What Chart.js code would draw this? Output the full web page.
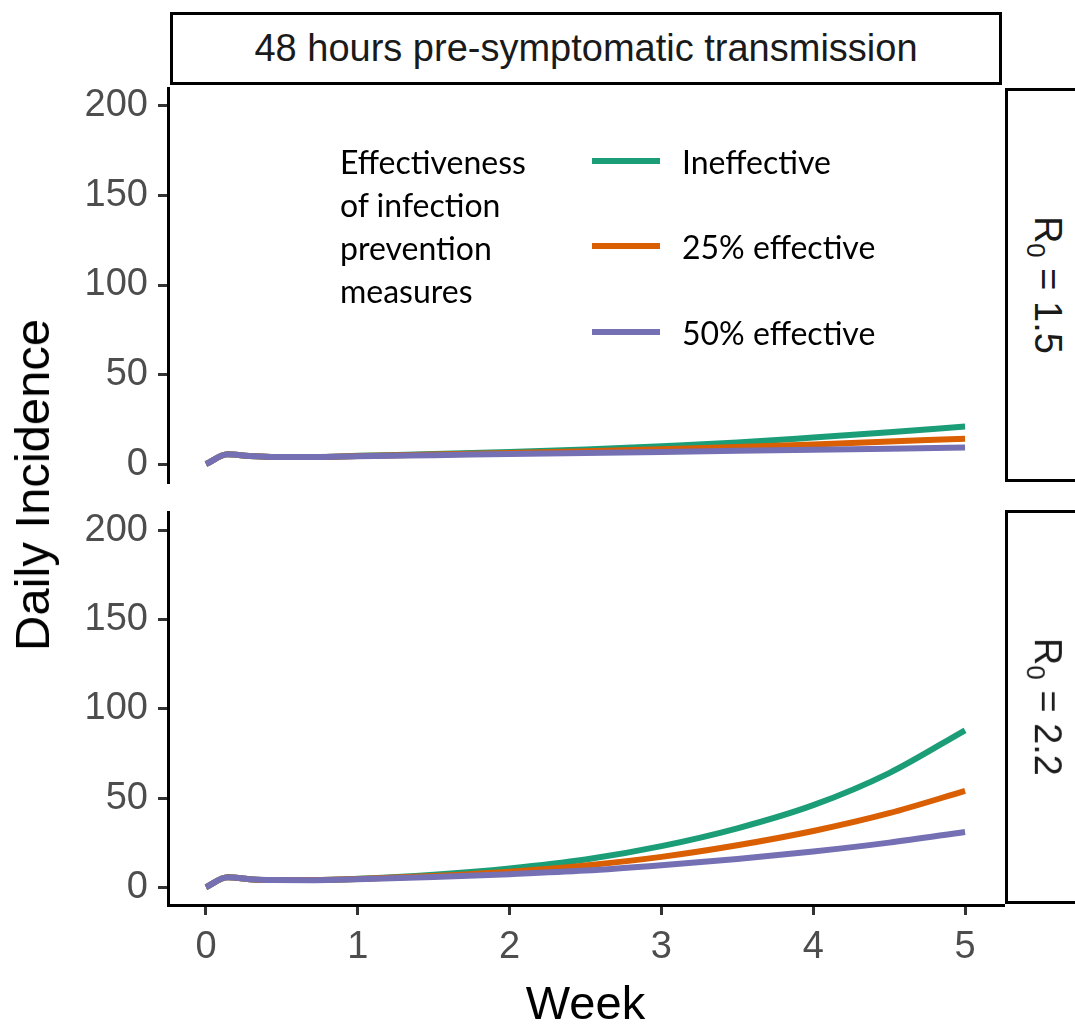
<!DOCTYPE html>
<html>
<head>
<meta charset="utf-8">
<title>48 hours pre-symptomatic transmission</title>
<script src="https://cdn.jsdelivr.net/npm/chart.js@4.4.1/dist/chart.umd.min.js"></script>
<style>
  html, body { margin: 0; padding: 0; background: #fff; }
  #wrap { position: relative; width: 1075px; height: 1024px; overflow: hidden;
          font-family: "Liberation Sans", Arial, sans-serif; }
  canvas { position: absolute; left: 0; }
  .strip { position: absolute; box-sizing: border-box; border: 3px solid #000; background: #fff;
           color: #1a1a1a; font-size: 38px; display: flex; align-items: center; justify-content: center; }
  .strip .rot { transform: rotate(90deg); white-space: nowrap; }
  .strip sub { font-size: 0.68em; vertical-align: -0.3em; }
  #ytitle { position: absolute; left: 32px; top: 485px; font-size: 49px; color: #000; white-space: nowrap;
            transform: translate(-50%, -50%) rotate(-90deg); }
  #legTitle { position: absolute; left: 340px; top: 140px; font-family: Lato, "Open Sans", sans-serif;
              font-size: 32px; line-height: 43px; color: #000; }
  .legItem { position: absolute; left: 592px; display: flex; align-items: center;
             font-family: Lato, "Open Sans", sans-serif; font-size: 32px; color: #000; height: 40px; }
  .legItem .sw { display: inline-block; width: 68px; height: 6px; margin-right: 22px; }
</style>
</head>
<body>
<div id="wrap">
  <canvas id="topChart" width="1075" height="470" style="top:50px"></canvas>
  <canvas id="bottomChart" width="1075" height="544" style="top:480px"></canvas>

  <div class="strip" style="left:170px; top:12px; width:832px; height:73px;">48 hours pre-symptomatic transmission</div>
  <div class="strip" style="left:1005px; top:88px; width:80px; height:394px;"><span class="rot">R<sub>0</sub> = 1.5</span></div>
  <div class="strip" style="left:1005px; top:510px; width:80px; height:394px;"><span class="rot">R<sub>0</sub> = 2.2</span></div>

  <div id="ytitle">Daily Incidence</div>

  <div id="legTitle">Effectiveness<br>of infection<br>prevention<br>measures</div>
  <div id="legend"></div>
</div>

<script>
// data (weeks since start, daily incidence)
const weeks = [0, 0.143, 0.286, 0.429, 0.714, 1, 1.5, 2, 2.5, 3, 3.5, 4, 4.5, 5];

const seriesNames = ['Ineffective', '25% effective', '50% effective'];
const seriesColors = ['#1b9e77', '#d95f02', '#7570b3'];

// R0 = 1.5
const r15Ineffective = [0, 5.5, 4.5, 4.0, 3.9, 4.6, 5.6, 6.8, 8.2, 10.0, 12.0, 14.8, 17.8, 21.0];
const r15Eff25       = [0, 5.5, 4.5, 4.0, 3.9, 4.5, 5.3, 6.2, 7.2, 8.3, 9.6, 11.0, 12.6, 14.2];
const r15Eff50       = [0, 5.5, 4.5, 4.0, 3.9, 4.4, 5.0, 5.6, 6.2, 6.8, 7.4, 8.0, 8.6, 9.2];

// R0 = 2.2
const r22Ineffective = [0, 5.5, 4.5, 4.0, 4.0, 4.7, 7.0, 10.5, 15.5, 23.0, 33.0, 46.0, 64.0, 88.0];
const r22Eff25       = [0, 5.5, 4.5, 4.0, 4.0, 4.6, 6.3, 8.7, 12.2, 17.0, 23.5, 31.5, 41.5, 54.0];
const r22Eff50       = [0, 5.5, 4.5, 4.0, 3.9, 4.4, 5.7, 7.3, 9.3, 12.3, 15.8, 20.0, 25.0, 31.0];

const yTicks = [0, 50, 100, 150, 200];
const xTicks = [0, 1, 2, 3, 4, 5];

const baseFont = '"Liberation Sans", Arial, sans-serif';

// legend (drawn as html, colours from the series)
const legend = document.getElementById('legend');
const legendTops = [141, 226, 312];
seriesNames.forEach((name, i) => {
  const row = document.createElement('div');
  row.className = 'legItem';
  row.style.top = legendTops[i] + 'px';
  row.innerHTML = '<span class="sw" style="background:' + seriesColors[i] + '"></span>' + name;
  legend.appendChild(row);
});

function axisStyle() {
  return {
    border: { display: true, color: '#000', width: 3 },
    grid: { drawOnChartArea: false, drawTicks: true, tickLength: 10, color: '#333', tickColor: '#333', lineWidth: 3 },
    ticks: { color: '#4d4d4d', font: { family: baseFont, size: 38 }, padding: 10, maxRotation: 0 }
  };
}

function makePanel(id, series, showX, pad) {
  const datasets = series.map((vals, i) => ({
    label: seriesNames[i],
    data: vals.map((v, j) => ({ x: weeks[j], y: v })),
    borderColor: seriesColors[i],
    borderWidth: 6,
    pointRadius: 0,
    fill: false,
    cubicInterpolationMode: 'monotone',
    order: 3 - i   // 50% effective drawn on top
  }));

  const xAxis = Object.assign(axisStyle(), {
    type: 'linear', min: -0.25, max: 5.25, display: showX,
    afterBuildTicks: s => { s.ticks = xTicks.map(v => ({ value: v })); },
    afterFit: s => { if (showX) s.height = 119; },
    title: { display: true, text: 'Week', color: '#000',
             font: { family: baseFont, size: 47, lineHeight: 0.78 }, padding: { top: 8, bottom: 0 } }
  });
  const yAxis = Object.assign(axisStyle(), {
    type: 'linear', min: -10, max: 210,
    afterBuildTicks: s => { s.ticks = yTicks.map(v => ({ value: v })); },
    afterFit: s => { s.width = 168; }
  });

  return new Chart(document.getElementById(id), {
    type: 'line',
    data: { datasets },
    options: {
      responsive: false,
      animation: false,
      layout: { padding: pad },
      plugins: { legend: { display: false }, tooltip: { enabled: false } },
      scales: { x: xAxis, y: yAxis }
    }
  });
}

makePanel('topChart', [r15Ineffective, r15Eff25, r15Eff50], false, { top: 38, right: 72, bottom: 38, left: 0 });
makePanel('bottomChart', [r22Ineffective, r22Eff25, r22Eff50], true, { top: 30, right: 72, bottom: 0, left: 0 });
</script>
</body>
</html>
